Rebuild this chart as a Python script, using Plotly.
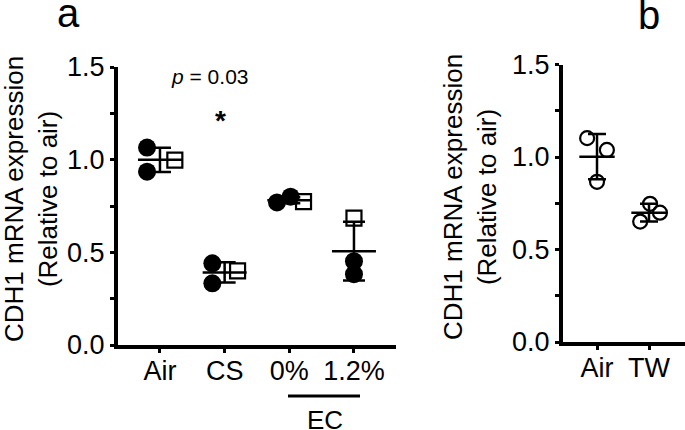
import numpy as np
import plotly.graph_objects as go

# ---------------- data ----------------
a_categories = ["Air", "CS", "0%", "1.2%"]
a_circle_vals = [[1.065, 0.935], [0.441, 0.333], [0.769, 0.800], [0.452, 0.382]]
a_square_vals = [0.997, 0.400, 0.774, 0.685]

b_categories = ["Air", "TW"]
b_circle_vals = [[1.102, 1.038, 0.866], [0.651, 0.747, 0.699]]

y_ticks = [0.0, 0.5, 1.0, 1.5]
y_ticktext = ["0.0", "0.5", "1.0", "1.5"]

# horizontal scatter offsets of the individual points (layout only)
a_circle_offsets = [[-0.20, -0.20], [-0.19, -0.19], [-0.19, 0.02], [0.0, 0.0]]
a_square_offsets = [0.23, 0.20, 0.22, 0.0]
b_circle_offsets = [[-0.19, 0.19, 0.0], [-0.17, 0.02, 0.21]]

FONT = "Liberation Sans, Arial, Helvetica, sans-serif"
W, H = 685, 430
MEAN_HALF = 0.34

fig = go.Figure()


def add_summary(xref, yref, groups, cap):
    means = [float(np.mean(g)) for g in groups]
    sds = [float(np.std(g, ddof=1)) for g in groups]
    xs = list(range(len(groups)))
    lx, ly = [], []
    for i, m in zip(xs, means):
        lx += [i - MEAN_HALF, i + MEAN_HALF, None]
        ly += [m, m, None]
    fig.add_trace(go.Scatter(x=lx, y=ly, mode="lines", xaxis=xref, yaxis=yref,
                             line=dict(color="black", width=2.5), hoverinfo="skip",
                             showlegend=False))
    fig.add_trace(go.Scatter(x=xs, y=means, mode="markers", xaxis=xref, yaxis=yref,
                             marker=dict(size=1, color="rgba(0,0,0,0)"),
                             error_y=dict(type="data", array=sds, width=cap,
                                          thickness=2.5, color="black"),
                             hoverinfo="skip", showlegend=False))


# ---------- panel a ----------
a_groups = [a_circle_vals[i] + [a_square_vals[i]] for i in range(len(a_categories))]
add_summary("x", "y", a_groups, 11)

cx, cy = [], []
for i, (vals, offs) in enumerate(zip(a_circle_vals, a_circle_offsets)):
    for v, o in zip(vals, offs):
        cx.append(i + o)
        cy.append(v)
fig.add_trace(go.Scatter(x=cx, y=cy, mode="markers", xaxis="x", yaxis="y",
                         marker=dict(symbol="circle", size=18, color="black",
                                     line=dict(width=0)),
                         showlegend=False))
sx = [i + o for i, o in enumerate(a_square_offsets)]
fig.add_trace(go.Scatter(x=sx, y=a_square_vals, mode="markers", xaxis="x", yaxis="y",
                         marker=dict(symbol="square-open", size=15, color="black",
                                     line=dict(width=2.2, color="black")),
                         showlegend=False))

# ---------- panel b ----------
add_summary("x2", "y2", b_circle_vals, 9)
bx, by = [], []
for i, (vals, offs) in enumerate(zip(b_circle_vals, b_circle_offsets)):
    for v, o in zip(vals, offs):
        bx.append(i + o)
        by.append(v)
fig.add_trace(go.Scatter(x=bx, y=by, mode="markers", xaxis="x2", yaxis="y2",
                         marker=dict(symbol="circle-open", size=14, color="black",
                                     line=dict(width=2.2, color="black")),
                         showlegend=False))


def px_x(p):
    return p / W


def px_y(p):
    return 1 - p / H


TICKSIZE = 27
common_x = dict(showline=True, linewidth=4, linecolor="black", ticks="outside",
                ticklen=4, tickwidth=3, tickcolor="black", showgrid=False,
                zeroline=False, tickfont=dict(family=FONT, size=TICKSIZE, color="black"),
                ticklabelstandoff=-5, fixedrange=True)
common_y = dict(showline=True, linewidth=4, linecolor="black", ticks="outside",
                ticklen=4, tickwidth=3, tickcolor="black", showgrid=False,
                zeroline=False, range=[0, 1.5], tickvals=y_ticks, ticktext=y_ticktext,
                tickfont=dict(family=FONT, size=TICKSIZE, color="black"),
                minor=dict(ticks="outside", ticklen=4, tickwidth=3, tickcolor="black",
                           tickvals=[0.25, 0.75, 1.25]),
                fixedrange=True)

fig.update_layout(
    width=W, height=H,
    margin=dict(l=0, r=0, t=0, b=0, autoexpand=False),
    paper_bgcolor="white", plot_bgcolor="white",
    font=dict(family=FONT, color="black"),
    xaxis=dict(common_x, domain=[px_x(118), px_x(396)], range=[-0.649, 3.650],
               tickvals=list(range(len(a_categories))), ticktext=a_categories,
               anchor="y"),
    yaxis=dict(common_y, domain=[px_y(345), px_y(67)], anchor="x"),
    xaxis2=dict(common_x, domain=[px_x(563), 1.0], range=[-0.654, 1.692],
                tickvals=list(range(len(b_categories))), ticktext=b_categories,
                anchor="y2"),
    yaxis2=dict(common_y, domain=[px_y(342), px_y(64.5)], anchor="x2"),
)

ann = []
title = "CDH1 mRNA expression<br>(Relative to air)"
ann.append(dict(text=title, x=px_x(31), y=px_y(199), xref="paper", yref="paper",
                showarrow=False, textangle=-90, xanchor="center", yanchor="middle",
                font=dict(family=FONT, size=26, color="black")))
ann.append(dict(text=title, x=px_x(470), y=px_y(197), xref="paper", yref="paper",
                showarrow=False, textangle=-90, xanchor="center", yanchor="middle",
                font=dict(family=FONT, size=26, color="black")))
ann.append(dict(text="a", x=px_x(68), y=px_y(13), xref="paper", yref="paper",
                showarrow=False, xanchor="center", yanchor="middle",
                font=dict(family=FONT, size=40, color="black")))
ann.append(dict(text="b", x=px_x(649), y=px_y(15), xref="paper", yref="paper",
                showarrow=False, xanchor="center", yanchor="middle",
                font=dict(family=FONT, size=40, color="black")))
ann.append(dict(text="<i>p</i> = 0.03", x=px_x(210), y=px_y(77), xref="paper",
                yref="paper", showarrow=False, xanchor="center", yanchor="middle",
                font=dict(family=FONT, size=21, color="black")))
ann.append(dict(text="<b>*</b>", x=px_x(220), y=px_y(120), xref="paper", yref="paper",
                showarrow=False, xanchor="center", yanchor="middle",
                font=dict(family=FONT, size=28, color="black")))
ann.append(dict(text="EC", x=px_x(325), y=px_y(420), xref="paper", yref="paper",
                showarrow=False, xanchor="center", yanchor="middle",
                font=dict(family=FONT, size=26, color="black")))
fig.update_layout(annotations=ann)

fig.add_shape(type="line", xref="paper", yref="paper",
              x0=px_x(288), x1=px_x(360), y0=px_y(396), y1=px_y(396),
              line=dict(color="black", width=3))

fig.write_html(
    "out.html",
    config={"displayModeBar": False, "staticPlot": True},
    post_script="document.body.style.margin='0';document.body.style.overflow='hidden';",
)
